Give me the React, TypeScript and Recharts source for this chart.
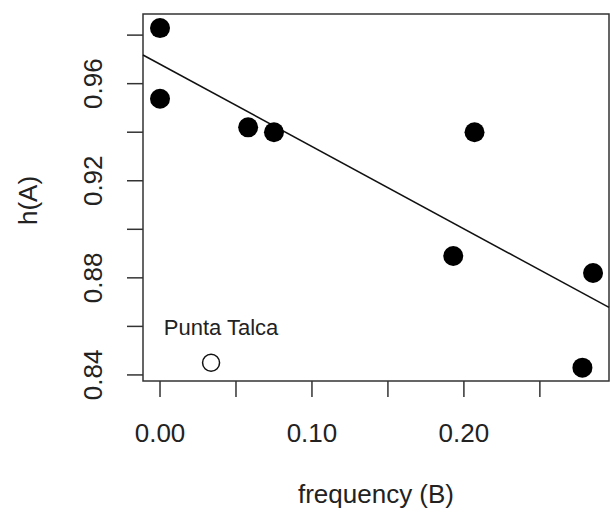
import {
  ScatterChart,
  Scatter,
  XAxis,
  YAxis,
  ReferenceLine,
  ReferenceArea,
  Label,
} from "recharts";

// frequency (B) vs h(A), filled = populations, open = Punta Talca
const filledX = [0.0, 0.0, 0.058, 0.075, 0.193, 0.207, 0.278, 0.285];
const filledY = [0.9829, 0.9538, 0.942, 0.94, 0.889, 0.94, 0.843, 0.882];

const openX = [0.0336];
const openY = [0.845];
const openNames = ["Punta Talca"];

const xTicks = [0, 0.05, 0.1, 0.15, 0.2, 0.25];
const xTickLabels = ["0.00", "", "0.10", "", "0.20", ""];
const yTicks = [0.84, 0.86, 0.88, 0.9, 0.92, 0.94, 0.96, 0.98];
const yTickLabels = ["0.84", "", "0.88", "", "0.92", "", "0.96", ""];

const xDomain = [-0.0112, 0.2955];
const yDomain = [0.8375, 0.9887];

// fitted regression line
const fitIntercept = 0.968;
const fitSlope = -0.339;

const filledData = filledX.map((x, i) => ({ x, y: filledY[i] }));
const openData = openX.map((x, i) => ({ x, y: openY[i], name: openNames[i] }));

const INK = "#222";
const FONT = "'Liberation Sans', Arial, Helvetica, sans-serif";

const XTick = (props: any) => {
  const { x, y, index } = props;
  const txt = xTickLabels[index];
  if (!txt) return null;
  return (
    <text x={x} y={y + 43} textAnchor="middle" fontSize={26} fill={INK} fontFamily={FONT}>
      {txt}
    </text>
  );
};

const YTick = (props: any) => {
  const { x, y, index } = props;
  const txt = yTickLabels[index];
  if (!txt) return null;
  const bx = x - 23;
  return (
    <text
      x={bx}
      y={y}
      transform={`rotate(-90, ${bx}, ${y})`}
      textAnchor="middle"
      fontSize={26}
      fill={INK}
      fontFamily={FONT}
    >
      {txt}
    </text>
  );
};

const FilledDot = (props: any) => <circle cx={props.cx} cy={props.cy} r={10} fill="#000" />;
const OpenDot = (props: any) => (
  <g>
    <circle cx={props.cx} cy={props.cy} r={8.5} fill="#fff" stroke="#111" strokeWidth={1.5} />
    <text
      x={props.cx + 10}
      y={props.cy - 28}
      textAnchor="middle"
      fontSize={22}
      fill={INK}
      fontFamily={FONT}
    >
      {props.payload.name}
    </text>
  </g>
);

const App = () => {
  return (
    <div style={{ position: "absolute", left: 0, top: 0, background: "#fff" }}>
      <ScatterChart width={610} height={515} margin={{ top: 14, right: 1, left: 0, bottom: 0 }}>
        <XAxis
          type="number"
          dataKey="x"
          domain={xDomain}
          ticks={xTicks}
          allowDataOverflow
          height={134}
          axisLine={false}
          tickSize={16}
          tickLine={{ stroke: "#333", strokeWidth: 1.5 }}
          tick={<XTick />}
          interval={0}
        >
          <Label
            content={(p: any) => {
              const vb = p.viewBox;
              return (
                <text
                  x={vb.x + vb.width / 2}
                  y={vb.y + 122}
                  textAnchor="middle"
                  fontSize={26}
                  fill={INK}
                  fontFamily={FONT}
                >
                  frequency (B)
                </text>
              );
            }}
          />
        </XAxis>
        <YAxis
          type="number"
          dataKey="y"
          domain={yDomain}
          ticks={yTicks}
          allowDataOverflow
          width={143}
          axisLine={false}
          tickSize={16}
          tickLine={{ stroke: "#333", strokeWidth: 1.5 }}
          tick={<YTick />}
          interval={0}
        >
          <Label
            content={(p: any) => {
              const vb = p.viewBox;
              const cy = vb.y + vb.height / 2 + 3;
              return (
                <text
                  x={37}
                  y={cy}
                  transform={`rotate(-90, 37, ${cy})`}
                  textAnchor="middle"
                  fontSize={26}
                  fill={INK}
                  fontFamily={FONT}
                >
                  h(A)
                </text>
              );
            }}
          />
        </YAxis>
        <ReferenceArea
          x1={xDomain[0]}
          x2={xDomain[1]}
          y1={yDomain[0]}
          y2={yDomain[1]}
          fill="none"
          stroke="#333"
          strokeWidth={1.5}
          fillOpacity={0}
          ifOverflow="visible"
        />
        <ReferenceLine
          segment={[
            { x: xDomain[0], y: fitIntercept + fitSlope * xDomain[0] },
            { x: xDomain[1], y: fitIntercept + fitSlope * xDomain[1] },
          ]}
          stroke="#111"
          strokeWidth={1.5}
          ifOverflow="visible"
        />
        <Scatter data={filledData} shape={<FilledDot />} isAnimationActive={false} />
        <Scatter data={openData} shape={<OpenDot />} isAnimationActive={false} />
      </ScatterChart>
    </div>
  );
};

export default App;
